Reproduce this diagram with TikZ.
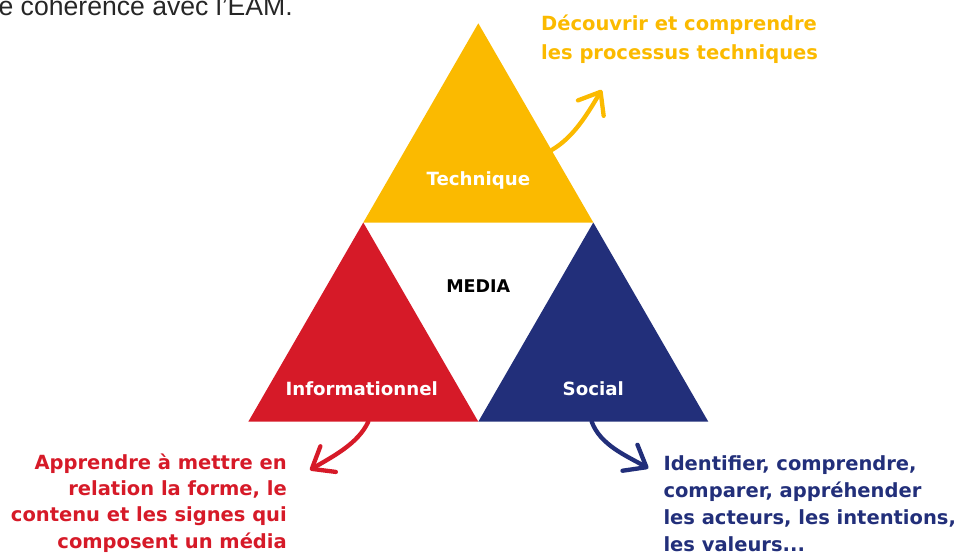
\documentclass[tikz,border=0pt]{standalone}
\usepackage{fontspec}
\setmainfont{DejaVu Sans}
\newfontfamily\introfont{Liberation Sans}
\usepackage{xcolor}
\usepackage{tikz}
\usetikzlibrary{arrows.meta, calc}
\definecolor{emiyellow}{RGB}{251,186,0}
\definecolor{emired}{RGB}{214,26,40}
\definecolor{eminavy}{RGB}{34,47,122}

\begin{document}
\begin{tikzpicture}[x=1pt,y=1pt,
  facet/.style={font=\bfseries\fontsize{18.2}{22}\selectfont, text=white, inner sep=0pt},
  goal/.style={font=\bfseries\fontsize{19.5}{27}\selectfont, inner sep=0pt},
  bendarrow/.style={line width=4.3pt, line cap=round, -{Straight Barb[length=19pt,width=30pt,round]}}]
\useasboundingbox (0,0) rectangle (957,555);
\clip (0,0) rectangle (957,555);

\coordinate (top) at (478.3,531.7);
\coordinate (ml) at (363.3,332.5);
\coordinate (mr) at (593.3,332.5);
\coordinate (bl) at (248.3,133.3);
\coordinate (bm) at (478.3,133.3);
\coordinate (br) at (708.3,133.3);
\fill[emiyellow] (top) -- (ml) -- (mr) -- cycle;
\fill[emired] (ml) -- (bl) -- (bm) -- cycle;
\fill[eminavy] (mr) -- (bm) -- (br) -- cycle;

\node[anchor=base east, font=\introfont\fontsize{26.6}{30}\selectfont, text=black!85, inner sep=0pt] (intro) at (293,539.5) {e cohérence avec l’EAM.};

\node[facet, anchor=base] (technique) at (478.3,369) {Technique};
\node[facet, anchor=base, text=black, font=\bfseries\fontsize{17.5}{22}\selectfont] (media) at (478.3,262.3) {MEDIA};
\node[facet, anchor=base] (info) at (361.7,160) {Informationnel};
\node[facet, anchor=base] (social) at (593.3,160) {Social};

\node[goal, text=emiyellow, align=left, anchor=base west, font=\bfseries\fontsize{19.5}{29.3}\selectfont] (techgoal) at (541,495) {Découvrir et comprendre\\les processus techniques};
\node[goal, text=emired, align=right, anchor=base east, font=\bfseries\fontsize{19.5}{26.3}\selectfont] (infogoal) at (287,7) {Apprendre à mettre en\\relation la forme, le\\contenu et les signes qui\\composent un média};
\node[goal, text=eminavy, align=left, anchor=base west, font=\bfseries\fontsize{19.5}{27.2}\selectfont] (socialgoal) at (663.3,3.3) {Identifier, comprendre,\\comparer, appréhender\\les acteurs, les intentions,\\les valeurs...};

\coordinate (techfrom) at (551.7,405);
\coordinate (techto) at (601.7,465);
\coordinate (infofrom) at (368.3,133.3);
\coordinate (infoto) at (310,85);
\coordinate (socialfrom) at (591.7,133.3);
\coordinate (socialto) at (648.3,86.7);
\draw[bendarrow, emiyellow] (techfrom) .. controls +(22.5,13) and +(-13.4,-22.3) .. (techto);
\draw[bendarrow, emired] (infofrom) .. controls +(-10.6,-22.7) and +(21.4,12.9) .. (infoto);
\draw[bendarrow, eminavy] (socialfrom) .. controls +(8.6,-23.5) and +(-21.7,12.5) .. (socialto);
\end{tikzpicture}
\end{document}
